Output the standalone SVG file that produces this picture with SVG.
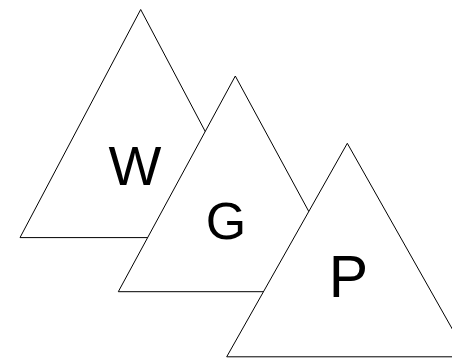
<svg xmlns="http://www.w3.org/2000/svg" width="452" height="358" viewBox="0 0 452 358">
<style>
.tri{fill:#fff;stroke:#000;stroke-width:1}
.lbl{font-family:"Liberation Sans",Arial,sans-serif;fill:#000;text-anchor:middle}
</style>
<rect width="452" height="358" fill="#fff"/>
<g id="W">
<polygon class="tri" points="140.7,9.5 20,237.6 261.4,237.6"/>
<text class="lbl" x="135" y="185" font-size="56">W</text>
</g>
<g id="G">
<polygon class="tri" points="235.3,76 118.3,291.7 352.3,291.7"/>
<text class="lbl" x="226" y="239" font-size="52">G</text>
</g>
<g id="P">
<polygon class="tri" points="347.3,143.3 226.7,356.8 468,356.8"/>
<text class="lbl" x="348.5" y="297" font-size="59">P</text>
</g>
<g id="connectors"/>
</svg>
